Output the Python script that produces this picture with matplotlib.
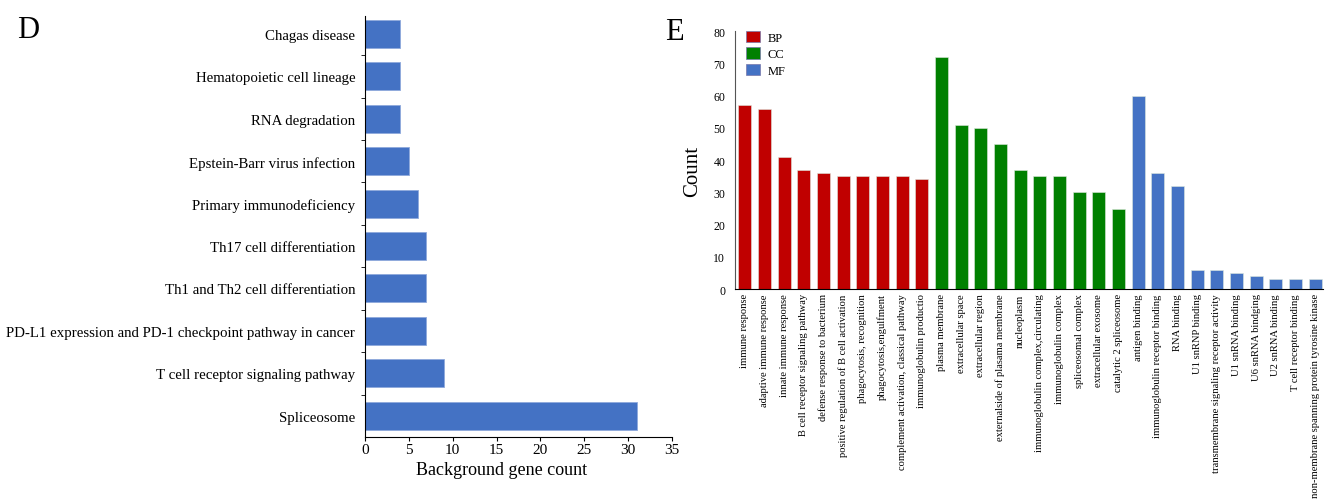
import matplotlib.pyplot as plt
import numpy as np

plt.rcParams['font.family'] = ['Liberation Serif', 'DejaVu Serif']

# Panel D - KEGG pathways (top to bottom)
kegg_terms = [
    "Chagas disease",
    "Hematopoietic cell lineage",
    "RNA degradation",
    "Epstein-Barr virus infection",
    "Primary immunodeficiency",
    "Th17 cell differentiation",
    "Th1 and Th2 cell differentiation",
    "PD-L1 expression and PD-1 checkpoint pathway in cancer",
    "T cell receptor signaling pathway",
    "Spliceosome",
]
kegg_counts = [4, 4, 4, 5, 6, 7, 7, 7, 9, 31]

# Panel E - GO terms
bp_terms = [
    "immune response", "adaptive immune response", "innate immune response",
    "B cell receptor signaling pathway", "defense response to bacterium",
    "positive regulation of B cell activation", "phagocytosis, recognition",
    "phagocytosis,engulfment", "complement activation, classical pathway",
    "immunoglobulin productio",
]
bp_counts = [57, 56, 41, 37, 36, 35, 35, 35, 35, 34]

cc_terms = [
    "plasma membrane", "extracellular space", "extracellular region",
    "externalside of plasama membrane", "nucleoplasm",
    "immunoglobulin complex,circulating", "immunoglobulin complex",
    "spliceosomal complex", "extracellular exosome", "catalytic 2 spliceosome",
]
cc_counts = [72, 51, 50, 45, 37, 35, 35, 30, 30, 25]

mf_terms = [
    "antigen binding", "immunoglobulin receptor binding", "RNA binding",
    "U1 snRNP binding", "transmembrane signaling receptor activity",
    "U1 snRNA binding", "U6 snRNA bindging", "U2 snRNA binding",
    "T cell receptor binding", "non-membrane spanning protein tyrosine kinase",
]
mf_counts = [60, 36, 32, 6, 6, 5, 4, 3, 3, 3]

blue = "#4472C4"
red = "#C00000"
green = "#008000"

fig = plt.figure(figsize=(13.3, 5.02), dpi=100)

# ---- D ----
ax1 = fig.add_axes([0.2744, 0.1275, 0.2309, 0.8385])
n = len(kegg_terms)
ypos = np.arange(n)[::-1]
ax1.barh(ypos, kegg_counts, height=0.66, color=blue, edgecolor="#8FA9DC", linewidth=0.6)
ax1.set_ylim(-0.5, n - 0.58)
ax1.set_xlim(0, 35)
ax1.set_xticks(range(0, 36, 5))
ax1.set_yticks(ypos)
ax1.set_yticklabels(kegg_terms, fontsize=10.7)
ax1.set_yticks(np.arange(n - 1) + 0.5, minor=True)
ax1.tick_params(axis="y", which="major", length=0, pad=7)
ax1.tick_params(axis="y", which="minor", length=3)
ax1.tick_params(axis="x", labelsize=11, length=3, pad=1)
ax1.spines["top"].set_visible(False)
ax1.spines["right"].set_visible(False)
ax1.set_xlabel("Background gene count", fontsize=13)
ax1.xaxis.set_label_coords(0.446, -0.056)
fig.text(0.013, 0.925, "D", fontsize=22)

# ---- E ----
ax2 = fig.add_axes([0.5526, 0.422, 0.4421, 0.514])
terms = bp_terms + cc_terms + mf_terms
counts = bp_counts + cc_counts + mf_counts
colors = [red] * len(bp_counts) + [green] * len(cc_counts) + [blue] * len(mf_counts)
x = np.arange(len(terms))
ax2.bar(x, counts, width=0.66, color=colors, edgecolor="#DDE8DD", linewidth=0.4)
ax2.set_xlim(-0.5, len(terms) - 0.6)
ax2.set_ylim(0, 80)
ax2.set_yticks(range(0, 81, 10))
ax2.tick_params(axis="y", labelsize=8.5, length=0, pad=7)
ax2.set_xticks(x)
ax2.set_xticklabels(terms, rotation=90, fontsize=7.6)
ax2.tick_params(axis="x", length=0, pad=3)
ax2.spines["top"].set_visible(False)
ax2.spines["right"].set_visible(False)
ax2.spines["left"].set_color("#555555")
ax2.set_ylabel("Count", fontsize=15)
ax2.yaxis.set_label_coords(-0.055, 0.46)

handles = [plt.Rectangle((0, 0), 1, 1, color=c, ec="#7777AA", lw=0.5) for c in (red, green, blue)]
ax2.legend(handles, ["BP", "CC", "MF"], loc="upper left", bbox_to_anchor=(0.0, 1.045),
           frameon=False, fontsize=9, handlelength=1.1, handleheight=1.0,
           labelspacing=0.3, handletextpad=0.6)
fig.text(0.5, 0.92, "E", fontsize=22)

plt.savefig("out.png", dpi=100)
